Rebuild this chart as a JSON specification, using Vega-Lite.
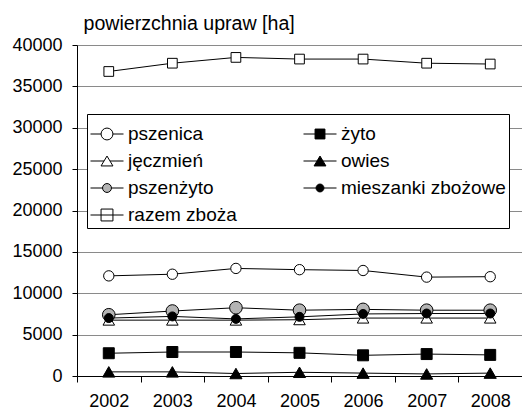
{
  "$schema": "https://vega.github.io/schema/vega-lite/v6.json",
  "width": 445,
  "height": 331,
  "autosize": {"type": "none"},
  "padding": {"left": 77, "top": 45, "right": 0, "bottom": 35},
  "background": "white",
  "config": {
    "view": {"stroke": null},
    "font": "Liberation Sans",
    "axis": {"labelFont": "Liberation Sans", "titleFont": "Liberation Sans", "labelColor": "black", "titleColor": "black"}
  },
  "data": {
    "values": [
      {"year": "2002", "series": "razem zboża", "value": 36800},
      {"year": "2003", "series": "razem zboża", "value": 37800},
      {"year": "2004", "series": "razem zboża", "value": 38500},
      {"year": "2005", "series": "razem zboża", "value": 38300},
      {"year": "2006", "series": "razem zboża", "value": 38300},
      {"year": "2007", "series": "razem zboża", "value": 37800},
      {"year": "2008", "series": "razem zboża", "value": 37700},
      {"year": "2002", "series": "pszenica", "value": 12100},
      {"year": "2003", "series": "pszenica", "value": 12300},
      {"year": "2004", "series": "pszenica", "value": 13000},
      {"year": "2005", "series": "pszenica", "value": 12850},
      {"year": "2006", "series": "pszenica", "value": 12750},
      {"year": "2007", "series": "pszenica", "value": 11950},
      {"year": "2008", "series": "pszenica", "value": 12000},
      {"year": "2002", "series": "pszenżyto", "value": 7400},
      {"year": "2003", "series": "pszenżyto", "value": 7850},
      {"year": "2004", "series": "pszenżyto", "value": 8250},
      {"year": "2005", "series": "pszenżyto", "value": 7950},
      {"year": "2006", "series": "pszenżyto", "value": 8050},
      {"year": "2007", "series": "pszenżyto", "value": 7950},
      {"year": "2008", "series": "pszenżyto", "value": 7950},
      {"year": "2002", "series": "jęczmień", "value": 6750},
      {"year": "2003", "series": "jęczmień", "value": 6750},
      {"year": "2004", "series": "jęczmień", "value": 6750},
      {"year": "2005", "series": "jęczmień", "value": 6800},
      {"year": "2006", "series": "jęczmień", "value": 7000},
      {"year": "2007", "series": "jęczmień", "value": 7000},
      {"year": "2008", "series": "jęczmień", "value": 7000},
      {"year": "2002", "series": "mieszanki zbożowe", "value": 7000},
      {"year": "2003", "series": "mieszanki zbożowe", "value": 7200},
      {"year": "2004", "series": "mieszanki zbożowe", "value": 6900},
      {"year": "2005", "series": "mieszanki zbożowe", "value": 7150},
      {"year": "2006", "series": "mieszanki zbożowe", "value": 7500},
      {"year": "2007", "series": "mieszanki zbożowe", "value": 7550},
      {"year": "2008", "series": "mieszanki zbożowe", "value": 7550},
      {"year": "2002", "series": "żyto", "value": 2750},
      {"year": "2003", "series": "żyto", "value": 2900},
      {"year": "2004", "series": "żyto", "value": 2900},
      {"year": "2005", "series": "żyto", "value": 2800},
      {"year": "2006", "series": "żyto", "value": 2500},
      {"year": "2007", "series": "żyto", "value": 2650},
      {"year": "2008", "series": "żyto", "value": 2550},
      {"year": "2002", "series": "owies", "value": 500},
      {"year": "2003", "series": "owies", "value": 500},
      {"year": "2004", "series": "owies", "value": 300},
      {"year": "2005", "series": "owies", "value": 450},
      {"year": "2006", "series": "owies", "value": 350},
      {"year": "2007", "series": "owies", "value": 250},
      {"year": "2008", "series": "owies", "value": 350}
    ]
  },
  "encoding": {
    "x": {
      "field": "year", "type": "ordinal",
      "scale": {"type": "band", "paddingInner": 0, "paddingOuter": 0},
      "axis": {
        "title": null, "labelAngle": 0, "labelFontSize": 18, "labelPadding": 10,
        "tickBand": "extent", "tickSize": 6, "tickColor": "black", "domainColor": "black",
        "grid": false, "labelBaseline": "top"
      }
    },
    "y": {
      "field": "value", "type": "quantitative",
      "scale": {"domain": [0, 40000], "nice": false, "zero": true},
      "axis": {
        "values": [0, 5000, 10000, 15000, 20000, 25000, 30000, 35000, 40000],
        "format": "d", "labelFontSize": 18, "labelPadding": 10, "tickSize": 5,
        "tickColor": "black", "domainColor": "black", "grid": true, "gridColor": "#8a8a8a",
        "title": "powierzchnia upraw [ha]", "titleAngle": 0, "titleX": 6, "titleY": -16,
        "titleAlign": "left", "titleBaseline": "alphabetic", "titleFontSize": 19.6, "titleFontWeight": "normal"
      }
    }
  },
  "layer": [
    {
      "mark": {"type": "line", "color": "black", "strokeWidth": 1},
      "encoding": {"detail": {"field": "series"}}
    },
    {
      "mark": {"type": "point", "filled": true, "stroke": "black", "strokeWidth": 1, "opacity": 1},
      "encoding": {
        "shape": {
          "field": "series", "type": "nominal",
          "scale": {
            "domain": ["razem zboża", "pszenica", "żyto", "jęczmień", "owies", "pszenżyto", "mieszanki zbożowe"],
            "range": ["square", "circle", "square", "triangle-up", "triangle-up", "circle", "circle"]
          },
          "legend": null
        },
        "fill": {
          "field": "series", "type": "nominal",
          "scale": {
            "domain": ["pszenica", "żyto", "jęczmień", "owies", "pszenżyto", "mieszanki zbożowe", "razem zboża"],
            "range": ["white", "black", "white", "black", "#b4b4b4", "black", "white"]
          },
          "legend": {
            "title": null, "orient": "none", "legendX": 10, "legendY": 69, "columns": 2, "direction": "horizontal",
            "fillColor": "white", "strokeColor": "black", "padding": 3,
            "labelFontSize": 19, "labelFont": "Liberation Sans", "labelColor": "black", "labelLimit": 0,
            "symbolSize": 1089, "symbolStrokeWidth": 1, "symbolStrokeColor": "black",
            "labelOffset": 4, "columnPadding": 64, "rowPadding": -4.5,
            "encoding": {
              "symbols": {
                "size": {"value": 1089},
                "stroke": {"value": "black"},
                "shape": {"value": {"expr": "datum.value == 'pszenica' ? 'M-1,0H-0.36M0.36,0H1M-0.36,0A0.36,0.36 0 1,0 0.36,0A0.36,0.36 0 1,0 -0.36,0Z' : datum.value == 'żyto' ? 'M-1,0H1M-0.3,-0.3H0.3V0.3H-0.3Z' : datum.value == 'jęczmień' ? 'M-1,0H-0.18M0.18,0H1M0,-0.3L0.36,0.3H-0.36Z' : datum.value == 'owies' ? 'M-1,0H1M0,-0.3L0.36,0.3H-0.36Z' : datum.value == 'pszenżyto' ? 'M-1,0H-0.27M0.27,0H1M-0.27,0A0.27,0.27 0 1,0 0.27,0A0.27,0.27 0 1,0 -0.27,0Z' : datum.value == 'mieszanki zbożowe' ? 'M-1,0H1M-0.24,0A0.24,0.24 0 1,0 0.24,0A0.24,0.24 0 1,0 -0.24,0Z' : 'M-1,0H1M-0.36,-0.36H0.36V0.36H-0.36Z'"}}
              }
            }
          }
        },
        "size": {
          "field": "series", "type": "nominal",
          "scale": {
            "domain": ["mieszanki zbożowe", "razem zboża", "pszenica", "żyto", "jęczmień", "owies", "pszenżyto"],
            "range": [81, 160, 150, 100, 160, 120, 90]
          },
          "legend": null
        }
      }
    }
  ]
}
